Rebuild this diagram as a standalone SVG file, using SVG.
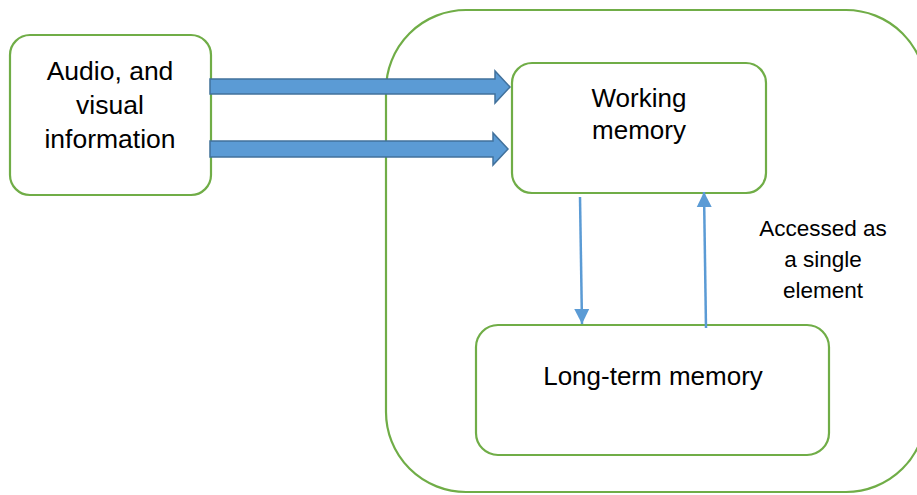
<svg xmlns="http://www.w3.org/2000/svg" width="917" height="495" viewBox="0 0 917 495">
<defs>
<style>
.box{fill:#fff;stroke:#70AD47;stroke-width:2.2}
.t{font-family:"Liberation Sans",Arial,sans-serif;fill:#000;text-anchor:middle}
.big{font-size:26.5px}
.mid{font-size:26px}
.sm{font-size:22.5px}
.block{fill:#5B9BD5;stroke:#41719C;stroke-width:1.5}
.thin{stroke:#5B9BD5;stroke-width:2.5;fill:none}
</style>
<marker id="ah" viewBox="0 0 10 10" refX="10" refY="5" markerWidth="6" markerHeight="6.5" markerUnits="strokeWidth" orient="auto">
<path d="M0,0 L10,5 L0,10 Z" fill="#5B9BD5"/>
</marker>
</defs>
<g id="outer"><rect class="box" x="386" y="10" width="540" height="482" rx="80"/></g>
<g id="audio"><rect class="box" x="10" y="35" width="201" height="160" rx="20"/>
<text class="t big" x="110" y="80">Audio, and</text>
<text class="t big" x="110" y="114">visual</text>
<text class="t big" x="110" y="148">information</text></g>
<g id="working"><rect class="box" x="512" y="63" width="254" height="130" rx="20"/>
<text class="t mid" x="639" y="107">Working</text>
<text class="t mid" x="639" y="139">memory</text></g>
<g id="longterm"><rect class="box" x="476" y="325" width="353" height="130" rx="22"/>
<text class="t mid" x="653" y="385">Long-term memory</text></g>
<g id="label"><text class="t sm" x="823" y="236">Accessed as</text>
<text class="t sm" x="823" y="267">a single</text>
<text class="t sm" x="823" y="298">element</text></g>
<g id="connectors">
<path class="block" d="M210,79 H495 V71 L510,87 L495,103 V94 H210 Z"/>
<path class="block" d="M210,141 H493 V133 L508,149 L493,165 V157 H210 Z"/>
<line class="thin" x1="580" y1="197" x2="582" y2="324" marker-end="url(#ah)"/>
<line class="thin" x1="706" y1="328" x2="704" y2="192" marker-end="url(#ah)"/>
</g>
</svg>
